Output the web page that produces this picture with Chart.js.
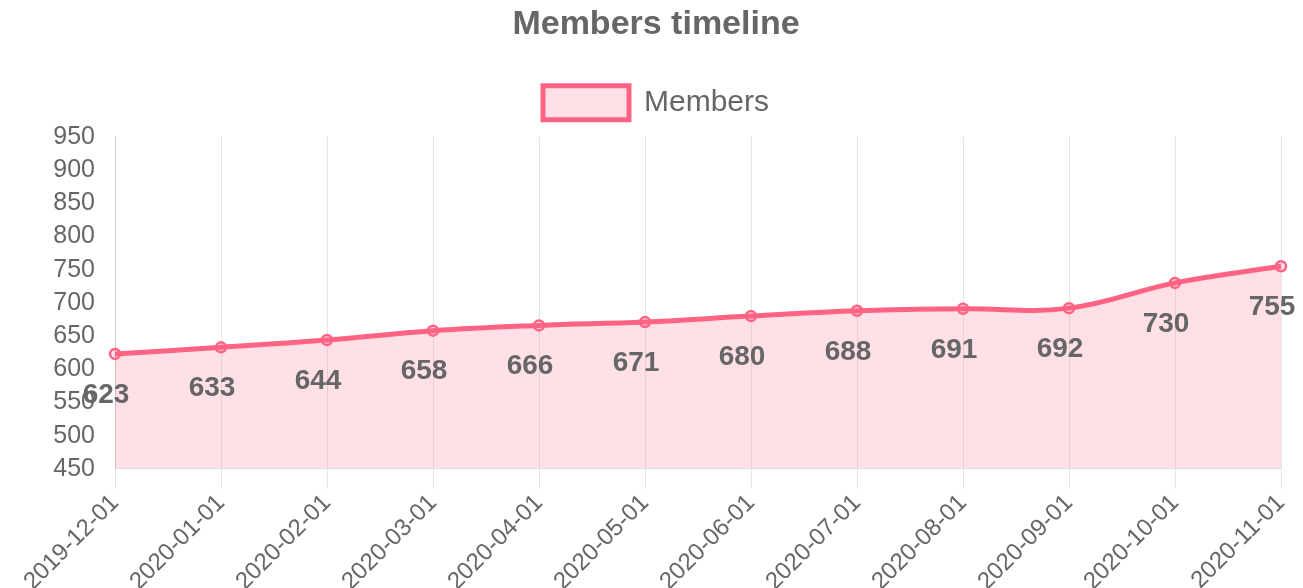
<!DOCTYPE html>
<html>
<head>
<meta charset="utf-8">
<script src="https://cdn.jsdelivr.net/npm/chart.js@4"></script>
<style>
  html, body { margin: 0; padding: 0; background: #fff; }
  #wrap { width: 1303px; height: 588px; }
</style>
</head>
<body>
<div id="wrap"><canvas id="c"></canvas></div>
<script>
const categories = ["2019-12-01","2020-01-01","2020-02-01","2020-03-01","2020-04-01","2020-05-01","2020-06-01","2020-07-01","2020-08-01","2020-09-01","2020-10-01","2020-11-01"];
const members = [623, 633, 644, 658, 666, 671, 680, 688, 691, 692, 730, 755];
const yMin = 450, yMax = 950, yStep = 50;

const FONT = "Arial, 'Liberation Sans', Helvetica, sans-serif";

const valueLabels = {
  id: 'valueLabels',
  afterDatasetsDraw(chart) {
    const ctx = chart.ctx;
    const meta = chart.getDatasetMeta(0);
    ctx.save();
    ctx.font = "bold 28px " + FONT;
    ctx.fillStyle = '#666';
    ctx.textAlign = 'center';
    ctx.textBaseline = 'middle';
    meta.data.forEach((pt, i) => {
      ctx.fillText(String(chart.data.datasets[0].data[i]), pt.x - 9, pt.y + 41);
    });
    ctx.restore();
  }
};

const legendSpacing = {
  id: 'legendSpacing',
  beforeInit(chart) {
    const origFit = chart.legend.fit;
    chart.legend.fit = function () {
      origFit.call(this);
      this.height += 7;
    };
  }
};

new Chart(document.getElementById('c'), {
  type: 'line',
  data: {
    labels: categories,
    datasets: [{
      label: 'Members',
      data: members,
      borderColor: 'rgb(255, 99, 132)',
      backgroundColor: 'rgba(255, 99, 132, 0.2)',
      fill: true,
      tension: 0.4,
      borderWidth: 5,
      pointRadius: 5,
      pointBorderWidth: 2.5,
      pointBackgroundColor: 'rgba(255, 99, 132, 0.2)',
      pointBorderColor: 'rgb(255, 99, 132)'
    }]
  },
  options: {
    responsive: true,
    maintainAspectRatio: false,
    animation: false,
    layout: { padding: { left: 31, right: 22, top: 0, bottom: -8 } },
    plugins: {
      title: {
        display: true,
        text: 'Members timeline',
        color: '#666',
        font: { family: FONT, size: 34, weight: 'bold' },
        padding: { top: 4, bottom: 25 }
      },
      legend: {
        labels: {
          color: '#666',
          font: { family: FONT, size: 30 },
          boxWidth: 86,
          boxHeight: 34,
          padding: 16
        }
      },
      tooltip: { enabled: false }
    },
    scales: {
      x: {
        grid: { color: 'rgba(0,0,0,0.1)', tickLength: 20, lineWidth: 1 },
        border: { color: 'rgba(0,0,0,0.1)' },
        ticks: { color: '#666', font: { family: FONT, size: 24 }, minRotation: 45, maxRotation: 45, autoSkip: false, padding: 0 }
      },
      y: {
        min: yMin, max: yMax,
        afterFit: (s) => { s.width = 84; },
        grid: { display: false, drawTicks: false },
        border: { color: 'rgba(0,0,0,0.1)' },
        ticks: { color: '#666', font: { family: FONT, size: 25 }, stepSize: yStep, padding: 20, autoSkip: false }
      }
    }
  },
  plugins: [legendSpacing, valueLabels]
});
</script>
</body>
</html>
